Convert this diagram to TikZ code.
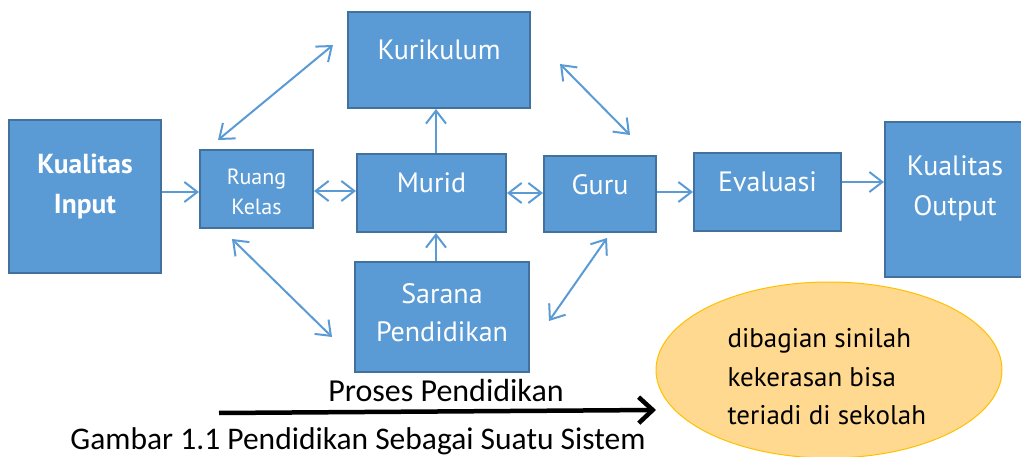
\documentclass[tikz,border=0pt]{standalone}
\usepackage{fontspec}
\setmainfont{PT Sans}
\newfontfamily\capfont{Carlito}
\usetikzlibrary{arrows.meta,shapes.geometric}
\definecolor{boxblue}{HTML}{5B9BD5}
\definecolor{boxline}{HTML}{41719C}
\definecolor{notefill}{HTML}{FFD98F}
\definecolor{noteline}{HTML}{FFC000}

\begin{document}
\begin{tikzpicture}[%
    x=1pt,
    y=-1pt,
    >={Straight Barb[length=13pt,width=20pt]},
    flow/.style={->, draw=boxblue, line width=2pt},
    both/.style={<->, draw=boxblue, line width=2pt},
    block/.style={%
      rectangle,
      draw=boxline,
      fill=boxblue,
      line width=2pt,
      inner sep=0pt
    },
    blocktext/.style={%
      text=white,
      align=center,
      font=\fontsize{28}{40}\selectfont
    }
  ]
    \useasboundingbox (0,0) rectangle (1021,457);

    \node[block, minimum width=152pt, minimum height=153pt,
          label={[blocktext, font=\fontsize{27.5}{40}\selectfont\bfseries, yshift=10pt]center:Kualitas\\Input}]
          (inp) at (85,196.5) {};
    \node[block, minimum width=113pt, minimum height=78pt,
          label={[blocktext, font=\fontsize{22}{30}\selectfont, yshift=-3pt]center:Ruang\\Kelas}]
          (ruang) at (256.5,189) {};
    \node[block, minimum width=182pt, minimum height=96pt,
          label={[blocktext, yshift=10pt]center:Kurikulum}]
          (kur) at (439,60) {};
    \node[block, minimum width=149pt, minimum height=78pt,
          label={[blocktext, yshift=10pt]center:Murid}]
          (murid) at (431.5,193) {};
    \node[block, minimum width=112pt, minimum height=76pt,
          label={[blocktext, yshift=9pt]center:Guru}]
          (guru) at (600,194) {};
    \node[block, minimum width=147pt, minimum height=78pt,
          label={[blocktext, yshift=10pt]center:Evaluasi}]
          (eval) at (767.5,192) {};
    \node[block, minimum width=140pt, minimum height=155pt,
          label={[blocktext, yshift=11pt]center:Kualitas\\Output}]
          (outp) at (955,199.5) {};
    \node[block, minimum width=174pt, minimum height=110pt,
          label={[blocktext, font=\fontsize{28}{38}\selectfont, yshift=4pt]center:Sarana\\Pendidikan}]
          (sarana) at (442,317) {};

    \node[ellipse, draw=noteline, fill=notefill, line width=1pt,
          minimum width=346pt, minimum height=176pt] (note) at (829,370) {};
    \node[anchor=west, align=left, font=\fontsize{27}{38.5}\selectfont]
          (notetext) at (724,377) {dibagian sinilah\\kekerasan bisa\\teriadi di sekolah};

    \node[font=\capfont\fontsize{32}{36}\selectfont] (proses) at (446,391) {Proses Pendidikan};
    \node[inner sep=0pt, font=\capfont\fontsize{31.5}{36}\selectfont] (caption) at (358,441)
          {Gambar 1.1 Pendidikan Sebagai Suatu Sistem};

    % straight connectors
    \draw[flow] (inp.east |- 0,192) -- (ruang.west |- 0,192);
    \draw[both] (ruang.east |- 0,191) -- (murid.west |- 0,191);
    \draw[both] (murid.east |- 0,193) -- (guru.west |- 0,193);
    \draw[flow] (guru.east |- 0,192) -- (eval.west |- 0,192);
    \draw[flow] (eval.east |- 0,182) -- (outp.west |- 0,182);
    \draw[flow] (murid.north -| 436,0) -- (kur.south -| 436,0);
    \draw[flow] (sarana.north -| 436,0) -- (murid.south -| 436,0);

    % diagonal connectors
    \coordinate (kl) at (333,45);
    \coordinate (rt) at (218,140);
    \coordinate (kr) at (560,64);
    \coordinate (gt) at (630,135);
    \coordinate (rb) at (232,239);
    \coordinate (sl) at (332,337);
    \coordinate (gb) at (607,238);
    \coordinate (sr) at (549,321);
    \path (kl) edge [both] (rt)
          (kr) edge [both] (gt)
          (rb) edge [both] (sl)
          (gb) edge [both] (sr);

    \coordinate (pstart) at (219,413);
    \coordinate (pend) at (656,410);
    \draw[line width=4.5pt, -{Straight Barb[length=14pt,width=26pt]}] (pstart) -- (pend);
  \end{tikzpicture}
\end{document}
